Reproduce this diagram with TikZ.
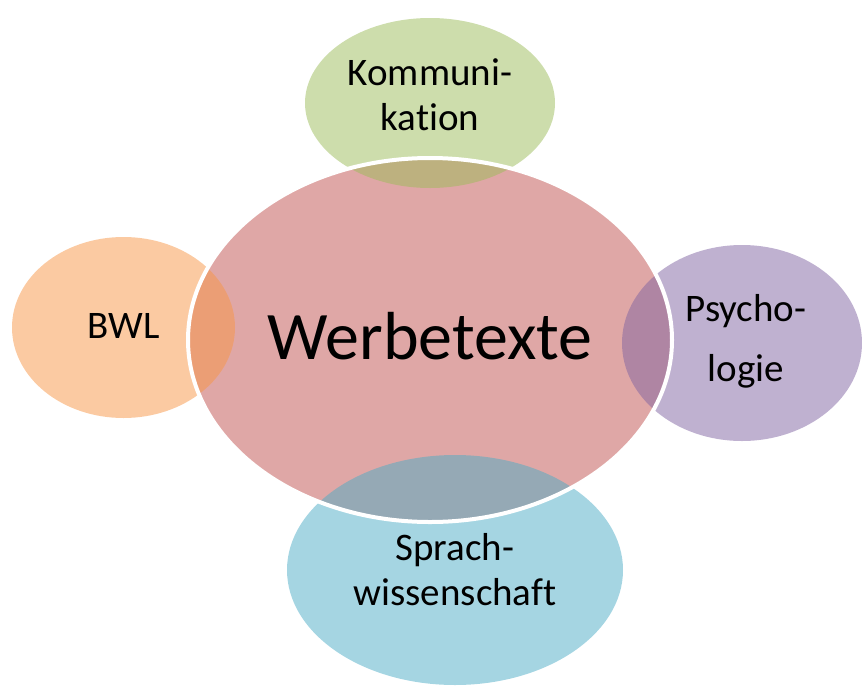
\documentclass[tikz,border=0pt]{standalone}
\usepackage{fontspec}
\setmainfont[Ligatures=NoCommon]{Carlito}
\usetikzlibrary{shapes.geometric}

\definecolor{redacc}{HTML}{C0504D}
\definecolor{greenacc}{HTML}{9BBB59}
\definecolor{orangeacc}{HTML}{F79646}
\definecolor{purpleacc}{HTML}{8064A2}
\definecolor{blueacc}{HTML}{4BACC6}

\begin{document}
\begin{tikzpicture}[x=0.5pt, y=-0.5pt,
    topic/.style = {ellipse,
        inner sep = 0pt,
        fill opacity = 0.5},
    word/.style = {align=center,
        font = \fontsize{19.5}{22.5}\selectfont}]

\useasboundingbox (0,0) rectangle (862,686);

% Werbetexte
\node[topic,fill=redacc,minimum width=242pt,minimum height=182pt,
    label={[font=\fontsize{34}{40}\selectfont,yshift=1.75pt]center:Werbetexte}] (W) at (430,340) {};

% Kommunikation
\node[topic,fill=greenacc,minimum width=125pt,minimum height=85pt,
    label={[word,yshift=4pt]center:{Kommuni-\\kation}}] (K) at (430,103) {};

% BWL
\node[topic,fill=orangeacc,minimum width=111.5pt,minimum height=90.5pt,
    label={[word,yshift=1pt]center:BWL}] (B) at (123.5,327.5) {};

% Psychologie
\node[topic,fill=purpleacc,minimum width=120pt,minimum height=98pt,
    label={[word,xshift=2pt,yshift=1pt]center:{Psycho-\\[7.5pt]logie}}] (P) at (742,343) {};

% Sprachwissenschaft
\node[topic,fill=blueacc,minimum width=168pt,minimum height=115pt,
    label={[word]center:{Sprach-\\wissenschaft}}] (S) at (455,570) {};

% Outline of the middle set
\node[ellipse,draw=white,line width=2pt,inner sep=0pt,
    minimum width=242pt,minimum height=182pt] (Wrand) at (W) {};
\end{tikzpicture}
\end{document}
